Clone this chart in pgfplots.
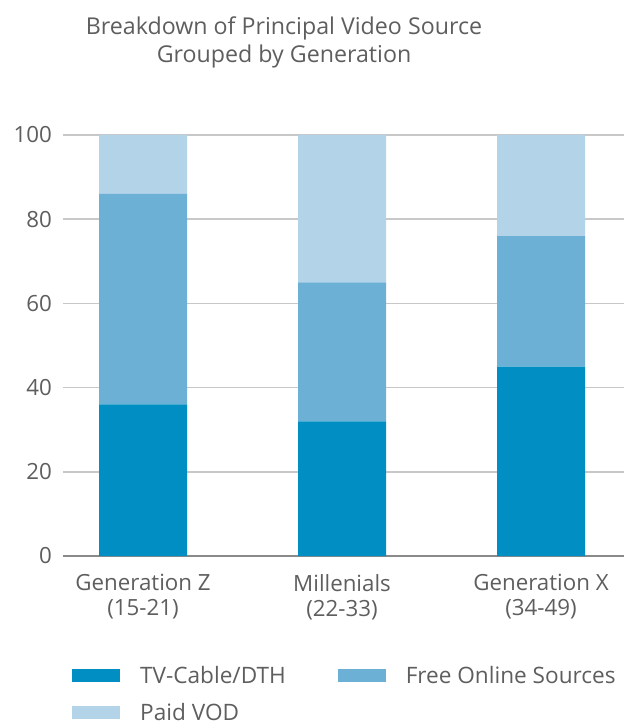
\documentclass[border=0pt]{standalone}
\usepackage{pgfplots}
\pgfplotsset{compat=1.18}
\usepackage{fontspec}
\setmainfont{Open Sans}
\definecolor{cA}{HTML}{008EC3}
\definecolor{cB}{HTML}{6DB0D6}
\definecolor{cC}{HTML}{B3D3E9}
\definecolor{txt}{HTML}{5E5E5E}
\definecolor{gridc}{HTML}{C8C8C8}
\definecolor{axc}{HTML}{8A8A8A}
\begin{document}
\begin{tikzpicture}[x=1pt,y=1pt]
\path[use as bounding box] (0,0) rectangle (624,726);
\node[align=center, text=txt, inner sep=0pt, font=\fontsize{23.2}{28}\selectfont, anchor=north] at (284,709) {Breakdown of Principal Video Source\\Grouped by Generation};
\begin{axis}[
  at={(63pt,170pt)}, anchor=south west,
  scale only axis, width=561pt, height=421pt,
  ybar stacked, bar width=88pt,
  xmin=-0.402, xmax=2.417, ymin=0, ymax=100,
  xtick={0,1,2},
  xticklabels={{Generation Z\\(15-21)},{Millenials\\(22-33)},{Generation X\\(34-49)}},
  xticklabel style={align=center, text=txt, font=\fontsize{22.3}{25}\selectfont, inner sep=0pt, yshift=-18pt},
  ytick={20,40,60,80,100},
  extra y ticks={0},
  extra y tick style={grid style={color=axc, line width=2pt}},
  yticklabel style={text=txt, font=\fontsize{22.3}{25}\selectfont, inner sep=0pt, xshift=-11pt},
  /pgf/number format/assume math mode=true,
  major tick length=0pt,
  ymajorgrids, grid style={color=gridc, line width=1.5pt},
  axis line style={draw=none},
  clip=false,
  legend style={draw=none, fill=none, at={(0.016,-0.262)}, anchor=north west,
    font=\fontsize{22.6}{25}\selectfont, text=txt, inner sep=0pt,
    nodes={inner sep=0pt}, column sep=20pt, row sep=18pt,
    /tikz/every even column/.append style={column sep=52pt}},
  legend columns=2, legend cell align=left,
  legend image code/.code={\fill[#1] (0pt,-6.5pt) rectangle (48pt,6.5pt);},
]
\addplot[fill=cA, draw=none] coordinates {(0,36) (1,32) (2,45)};
\addplot[fill=cB, draw=none] coordinates {(0,50) (1,33) (2,31)};
\addplot[fill=cC, draw=none] coordinates {(0,14) (1,35) (2,24)};
\legend{TV-Cable/DTH, Free Online Sources, Paid VOD}
\end{axis}
\end{tikzpicture}
\end{document}
